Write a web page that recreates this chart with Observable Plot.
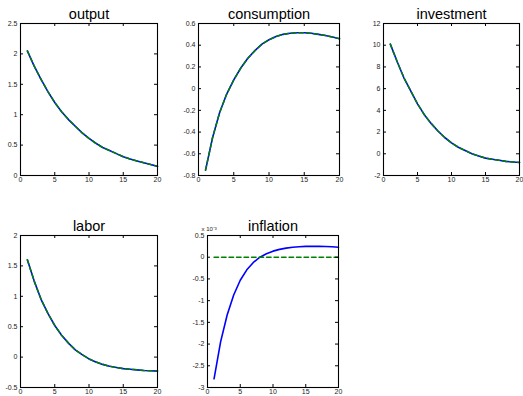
<!DOCTYPE html>
<html>
<head>
<meta charset="utf-8">
<script src="https://cdn.jsdelivr.net/npm/d3@7"></script>
<script src="https://cdn.jsdelivr.net/npm/@observablehq/plot@0.6"></script>
<style>
  html, body { margin: 0; padding: 0; background: #fff; }
  #chart { position: relative; width: 523px; height: 396px; overflow: hidden; background: #fff; }
  #chart svg { position: absolute; overflow: visible; }
</style>
</head>
<body>
<div id="chart"></div>
<script>
// Periods
const periods = [1,2,3,4,5,6,7,8,9,10,11,12,13,14,15,16,17,18,19,20];
const xTicks = [0, 5, 10, 15, 20];

// Series values (model response = blue, comparison = green dashed)
const outputVals      = [2.05,1.80,1.58,1.38,1.20,1.05,0.92,0.81,0.70,0.61,0.53,0.46,0.41,0.36,0.31,0.27,0.24,0.21,0.18,0.15];
const consumptionVals = [-0.75,-0.45,-0.22,-0.05,0.08,0.19,0.28,0.35,0.41,0.45,0.48,0.50,0.51,0.515,0.515,0.51,0.50,0.49,0.475,0.46];
const investmentVals  = [10.1,8.5,7.0,5.8,4.6,3.6,2.8,2.1,1.5,1.0,0.6,0.3,0.0,-0.2,-0.4,-0.5,-0.6,-0.7,-0.75,-0.8];
const laborVals       = [1.6,1.25,0.95,0.72,0.52,0.36,0.23,0.12,0.04,-0.03,-0.08,-0.12,-0.15,-0.17,-0.19,-0.20,-0.21,-0.22,-0.225,-0.23];
const inflationVals   = [-2.8,-1.95,-1.33,-0.87,-0.53,-0.29,-0.12,0.0,0.08,0.14,0.18,0.21,0.23,0.24,0.25,0.25,0.25,0.245,0.24,0.23]; // x 10^-3
const inflationAlt    = [0,0,0,0,0,0,0,0,0,0,0,0,0,0,0,0,0,0,0,0];

// Tick labels
const outputTicks      = [0, 0.5, 1, 1.5, 2, 2.5];
const consumptionTicks = [-0.8, -0.6, -0.4, -0.2, 0, 0.2, 0.4, 0.6];
const investmentTicks  = [-2, 0, 2, 4, 6, 8, 10, 12];
const laborTicks       = [-0.5, 0, 0.5, 1, 1.5, 2];
const inflationTicks   = [-3, -2.5, -2, -1.5, -1, -0.5, 0, 0.5];

const panels = [
  {title: "output",      left: 20,  top: 23,  w: 137, h: 152, ticks: outputTicks,      a: outputVals,      b: outputVals},
  {title: "consumption", left: 198, top: 23,  w: 141, h: 152, ticks: consumptionTicks, a: consumptionVals, b: consumptionVals},
  {title: "investment",  left: 383, top: 23,  w: 136, h: 152, ticks: investmentTicks,  a: investmentVals,  b: investmentVals},
  {title: "labor",       left: 20,  top: 235, w: 137, h: 152, ticks: laborTicks,       a: laborVals,       b: laborVals},
  {title: "inflation",   left: 207, top: 235, w: 131, h: 152, ticks: inflationTicks,   a: inflationVals,   b: inflationAlt, note: "x 10\u207B\u00B3"}
];

const ml = 30, mr = 6, mt = 26, mb = 12;
const tickLen = 3;
const container = document.getElementById("chart");
const fmt = d => String(d);

for (const p of panels) {
  const rowsA = periods.map((t, i) => ({t, v: p.a[i]}));
  const rowsB = periods.map((t, i) => ({t, v: p.b[i]}));
  const yDomain = [p.ticks[0], p.ticks[p.ticks.length - 1]];
  const marks = [
    Plot.line(rowsA, {x: "t", y: "v", stroke: "#0000ff", strokeWidth: 1.6}),
    Plot.line(rowsB, {x: "t", y: "v", stroke: "#008000", strokeWidth: 1.5, strokeDasharray: "4.5,3"}),
    // inward tick marks on all four sides
    Plot.tickX(xTicks, {x: d => d, stroke: "#000", insetTop: p.h - tickLen}),
    Plot.tickX(xTicks, {x: d => d, stroke: "#000", insetBottom: p.h - tickLen}),
    Plot.tickY(p.ticks, {y: d => d, stroke: "#000", insetRight: p.w - tickLen}),
    Plot.tickY(p.ticks, {y: d => d, stroke: "#000", insetLeft: p.w - tickLen}),
    Plot.frame({stroke: "#000", strokeWidth: 1.1}),
    Plot.axisX({ticks: xTicks, anchor: "bottom", label: null, tickSize: 0, tickPadding: 2, tickFormat: fmt, fontSize: 7, fill: "#222"}),
    Plot.axisY({ticks: p.ticks, anchor: "left", label: null, tickSize: 0, tickPadding: 3, tickFormat: fmt, fontSize: 7, fill: "#222"}),
    Plot.text([p.title], {text: d => d, frameAnchor: "top", lineAnchor: "bottom", dy: -5, fontSize: 14.5, fill: "#000", fontFamily: "Liberation Sans, Arial, sans-serif"})
  ];
  if (p.note) {
    marks.push(Plot.text([p.note], {text: d => d, frameAnchor: "top-left", lineAnchor: "bottom", dy: -5, dx: -6, textAnchor: "start", fontSize: 6, fill: "#222"}));
  }
  const svg = Plot.plot({
    width: p.w + ml + mr,
    height: p.h + mt + mb,
    marginLeft: ml, marginRight: mr, marginTop: mt, marginBottom: mb,
    x: {domain: [0, 20], axis: null},
    y: {domain: yDomain, axis: null},
    style: {fontFamily: "Liberation Sans, Arial, sans-serif", fontSize: "7px", background: "transparent", overflow: "visible"},
    marks
  });
  svg.style.left = (p.left - ml) + "px";
  svg.style.top = (p.top - mt) + "px";
  container.appendChild(svg);
}
</script>
</body>
</html>
